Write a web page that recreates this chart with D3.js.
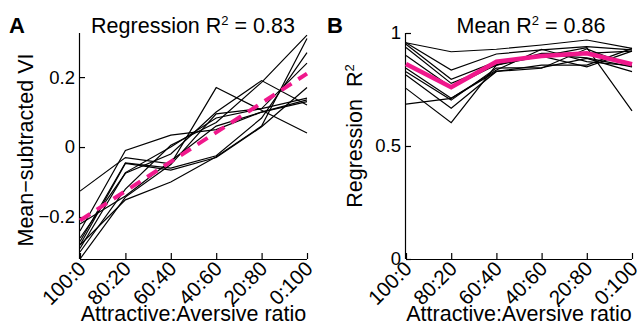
<!DOCTYPE html>
<html><head><meta charset="utf-8">
<script src="https://cdn.jsdelivr.net/npm/d3@7"></script>
<style>body{margin:0;background:#fff}svg{display:block}text{font-family:"Liberation Sans",Arial,sans-serif;fill:#000}</style>
</head><body><svg id="c" width="638" height="327"></svg>
<script>
const categories = ["100:0","80:20","60:40","40:60","20:80","0:100"];
// Panel A: mean-subtracted VI per animal
const viSeries = [
  [-0.126,-0.030,-0.048, 0.170, 0.105, 0.040],
  [-0.240,-0.010, 0.034, 0.050, 0.100, 0.130],
  [-0.270,-0.045,-0.060,-0.025, 0.083, 0.270],
  [-0.280,-0.047,-0.066,-0.030, 0.058, 0.170],
  [-0.290,-0.073, 0.000, 0.083, 0.110, 0.240],
  [-0.260,-0.075,-0.020, 0.100, 0.190, 0.120],
  [-0.300,-0.120, 0.005, 0.070, 0.185, 0.320],
  [-0.320,-0.143,-0.050, 0.095, 0.110, 0.140],
  [-0.280,-0.151,-0.100,-0.028, 0.060, 0.310],
  [-0.220,-0.140,-0.040, 0.060, 0.100, 0.135]
];
const regressionEnds = [-0.21, 0.21]; // fitted line at 100:0 and 0:100
const viTicks = [-0.2, 0, 0.2];
const viTickLabels = ["\u22120.2","0","0.2"];
// Panel B: regression R^2 per animal
const r2Series = [
  [0.957,0.917,0.928,0.947,0.969,0.932],
  [0.957,0.836,0.907,0.925,0.940,0.925],
  [0.950,0.795,0.873,0.898,0.935,0.655],
  [0.936,0.777,0.858,0.910,0.910,0.920],
  [0.844,0.711,0.836,0.928,0.873,0.855],
  [0.829,0.703,0.845,0.847,0.888,0.829],
  [0.814,0.667,0.830,0.858,0.858,0.932],
  [0.755,0.603,0.858,0.898,0.850,0.920],
  [0.685,0.711,0.830,0.844,0.930,0.851],
  [0.900,0.760,0.860,0.905,0.890,0.850]
];
const r2Mean = [0.863,0.760,0.873,0.898,0.910,0.862];
const r2Ticks = [0,0.5,1];
const r2TickLabels = ["0","0.5","1"];

const PINK = "#f0188c";
const FS = 21.5;
const svg = d3.select("#c");

function panel(opt){
  const g = svg.append("g");
  const x = d3.scalePoint().domain(categories).range([opt.x0, opt.x1]);
  const y = d3.scaleLinear().domain(opt.yDomain).range([259, 33]);
  const ya = d3.axisLeft(y).tickValues(opt.ticks).tickFormat((d,i)=>opt.tickLabels[i])
      .tickSizeInner(-5).tickSizeOuter(0).tickPadding(5);
  const yg = g.append("g").attr("transform",`translate(${opt.x0},0)`).call(ya);
  const xa = d3.axisBottom(x).tickSizeInner(-6).tickSizeOuter(0).tickFormat("");
  const xg = g.append("g").attr("transform","translate(0,259)").call(xa);
  [yg,xg].forEach(a=>{a.selectAll("path,line").attr("stroke","#000").attr("stroke-width",1.2);
    a.selectAll("text").style("font-size","18.5px").attr("fill","#000");});
  xg.select(".domain").attr("d",`M${opt.x0},0.5H${opt.x1}`);
  yg.select(".domain").attr("d",`M-0.5,259V33`);
  g.selectAll("text.cat").data(categories).join("text").attr("class","cat")
    .attr("text-anchor","end").style("font-size","20.5px")
    .attr("transform",d=>`translate(${x(d)+7},270) rotate(-45)`).text(d=>d);
  const line = d3.line().x((d,i)=>x(categories[i])).y(d=>y(d));
  g.selectAll("path.ser").data(opt.series).join("path").attr("class","ser")
    .attr("d",line).attr("fill","none").attr("stroke","#000").attr("stroke-width",1.2);
  g.append("text").attr("x",opt.titleX).attr("y",33).attr("text-anchor","middle")
    .style("font-size",FS+"px").call(t=>{t.append("tspan").text(opt.titlePre);
      t.append("tspan").attr("dy",-8).style("font-size","13px").text("2");
      t.append("tspan").attr("dy",8).text(opt.titlePost);});
  g.append("text").attr("x",(opt.x0+opt.x1)/2).attr("y",321).attr("text-anchor","middle")
    .style("font-size",FS+"px").text("Attractive:Aversive ratio");
  g.append("text").attr("x",opt.labX).attr("y",33).style("font-size","22px")
    .style("font-weight","bold").text(opt.letter);
  const yl = g.append("text").attr("transform",`translate(${opt.ylX},${opt.ylY}) rotate(-90)`)
    .attr("text-anchor","middle").style("font-size",FS+"px");
  yl.append("tspan").text(opt.ylabel);
  if(opt.ylSup){yl.append("tspan").attr("dy",-8).style("font-size","13px").text("2");}
  return {g,x,y,line};
}

const A = panel({x0:80,x1:307,yDomain:[-0.32,0.326],ticks:viTicks,tickLabels:viTickLabels,
  series:viSeries,titleX:193,titlePre:"Regression R",titlePost:" = 0.83",labX:9,letter:"A",
  ylabel:"Mean\u2212subtracted VI",ylX:33,ylY:150});
A.g.append("path").datum(regressionEnds)
  .attr("d",d3.line().x((d,i)=>A.x(categories[i*(categories.length-1)])).y(d=>A.y(d)))
  .attr("fill","none").attr("stroke",PINK).attr("stroke-width",4).attr("stroke-dasharray","12,8");

const B = panel({x0:406,x1:632,yDomain:[0,1],ticks:r2Ticks,tickLabels:r2TickLabels,
  series:r2Series,titleX:531,titlePre:"Mean R",titlePost:" = 0.86",labX:327,letter:"B",
  ylabel:"Regression\u00a0\u00a0R",ylSup:true,ylX:362,ylY:136});
B.g.append("path").datum(r2Mean).attr("d",B.line)
  .attr("fill","none").attr("stroke",PINK).attr("stroke-width",4.5);
</script></body></html>
